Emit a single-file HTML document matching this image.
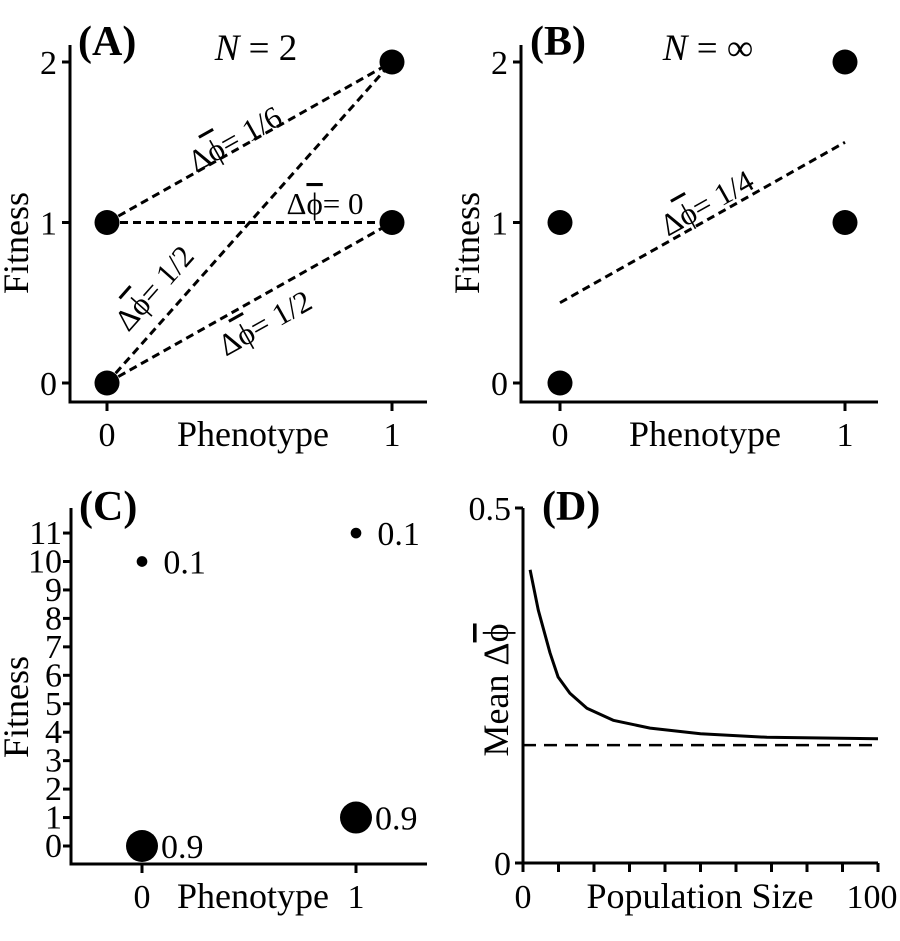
<!DOCTYPE html>
<html><head><meta charset="utf-8"><style>
html,body{margin:0;padding:0;background:#fff}
svg{display:block;font-family:"Liberation Serif",serif}
text{fill:#000}
</style></head><body>
<svg id="fig" width="900" height="941" viewBox="0 0 900 941" xmlns="http://www.w3.org/2000/svg">
</svg>
<script>
// Panel A data
const aPhen = [0, 0, 1, 1];
const aFit = [0, 1, 1, 2];
const aPairs = [[1,3],[1,2],[0,3],[0,2]];
// Panel B data
const bPhen = [0, 0, 1, 1];
const bFit = [0, 1, 1, 2];
const bLine = [0.5, 1.5];
// Panel C data
const cPhen = [0, 0, 1, 1];
const cFit = [0, 10, 1, 11];
const cProb = [0.9, 0.1, 0.9, 0.1];
const cProbLabels = ["0.9", "0.1", "0.9", "0.1"];
// Panel D data
const dN = [2, 4.3, 7.6, 9.9, 13.2, 18, 25.4, 35.8, 50, 68.7, 100];
const dMean = [0.413, 0.356, 0.296, 0.262, 0.239, 0.218, 0.201, 0.190, 0.182, 0.177, 0.175];
const dInf = [0.166];
const dXTicks = [0,10,20,30,40,50,60,70,80,90,100];

const NS = "http://www.w3.org/2000/svg";
const svg = document.getElementById('fig');
function el(tag, attrs, parent, txt){
  const e = document.createElementNS(NS, tag);
  for (const k in attrs) e.setAttribute(k, attrs[k]);
  if (txt !== undefined) e.textContent = txt;
  (parent || svg).appendChild(e);
  return e;
}
function group(name){
  const g = el('g', {});
  
  
  return g;
}
function axisLines(g, x0, yTop, yBot, xEnd){
  const l1 = el('line',{x1:x0,y1:yTop,x2:x0,y2:yBot+1.5,stroke:'#000','stroke-width':3},g);
   
  const l2 = el('line',{x1:x0-1.5,y1:yBot,x2:xEnd,y2:yBot,stroke:'#000','stroke-width':3},g);
   
}
function deltaLabel(g, x, y, angle, valueText, name){
  const t = el('text',{x:x,y:y,'font-size':31,'text-anchor':'middle',transform:`rotate(${angle} ${x} ${y})`},g);
   
  el('tspan',{},t,'Δ');
  el('tspan',{'text-decoration':'overline'},t,'ϕ');
  el('tspan',{},t,'= ' + valueText);
  return t;
}
const TF = 34, AF = 36, PF = 42;

// ---------- Panel A ----------
(function(){
  const g = group('panel-a');
  const sx = v => 107 + v*285, sy = v => 383 - v*160.5;
  axisLines(g, 70, 45, 402, 427);
  [0,1,2].forEach(v=>{
    el('line',{x1:62,y1:sy(v),x2:70,y2:sy(v),stroke:'#000','stroke-width':3},g);
    const t = el('text',{x:57,y:sy(v)+12,'font-size':TF,'text-anchor':'end'},g,String(v));
     
  });
  [0,1].forEach(v=>{
    el('line',{x1:sx(v),y1:402,x2:sx(v),y2:411,stroke:'#000','stroke-width':3},g);
    const t = el('text',{x:sx(v),y:446,'font-size':TF,'text-anchor':'middle'},g,String(v));
     
  });
  let t = el('text',{x:253,y:446,'font-size':AF,'text-anchor':'middle'},g,'Phenotype');
   
  t = el('text',{x:28,y:243,'font-size':AF,'text-anchor':'middle',transform:'rotate(-90 28 243)'},g,'Fitness');
   
  t = el('text',{x:78,y:55,'font-size':PF,'font-weight':'bold'},g,'(A)');
   
  t = el('text',{x:256,y:60,'font-size':37,'text-anchor':'middle'},g);
   
  el('tspan',{'font-style':'italic'},t,'N');
  el('tspan',{},t,' = 2');
  aPairs.forEach(p=>{
    const a=p[0], b=p[1];
    const l = el('line',{x1:sx(aPhen[a]),y1:sy(aFit[a]),x2:sx(aPhen[b]),y2:sy(aFit[b]),stroke:'#000','stroke-width':3,'stroke-dasharray':'8 5'},g);
     
  });
  aPhen.forEach((p,i)=>{
    const c = el('circle',{cx:sx(p),cy:sy(aFit[i]),r:12.5,fill:'#000'},g);
     
  });
  deltaLabel(g, 240, 148, -29.3, '1/6', 'delta-label-1-6');
  deltaLabel(g, 325, 214, 0, '0', 'delta-label-0');
  deltaLabel(g, 162, 295, -48.4, '1/2', 'delta-label-1-2-steep');
  deltaLabel(g, 270, 332, -29.3, '1/2', 'delta-label-1-2');
})();

// ---------- Panel B ----------
(function(){
  const g = group('panel-b');
  const sx = v => 560 + v*285, sy = v => 383 - v*160.5;
  axisLines(g, 521, 45, 402, 878);
  [0,1,2].forEach(v=>{
    el('line',{x1:513,y1:sy(v),x2:521,y2:sy(v),stroke:'#000','stroke-width':3},g);
    const t = el('text',{x:508,y:sy(v)+12,'font-size':TF,'text-anchor':'end'},g,String(v));
     
  });
  [0,1].forEach(v=>{
    el('line',{x1:sx(v),y1:402,x2:sx(v),y2:411,stroke:'#000','stroke-width':3},g);
    const t = el('text',{x:sx(v),y:446,'font-size':TF,'text-anchor':'middle'},g,String(v));
     
  });
  let t = el('text',{x:705,y:446,'font-size':AF,'text-anchor':'middle'},g,'Phenotype');
   
  t = el('text',{x:479,y:243,'font-size':AF,'text-anchor':'middle',transform:'rotate(-90 479 243)'},g,'Fitness');
   
  t = el('text',{x:530,y:55,'font-size':PF,'font-weight':'bold'},g,'(B)');
   
  t = el('text',{x:708,y:60,'font-size':37,'text-anchor':'middle'},g);
   
  el('tspan',{'font-style':'italic'},t,'N');
  el('tspan',{},t,' = ∞');
  const l = el('line',{x1:sx(0),y1:sy(bLine[0]),x2:sx(1),y2:sy(bLine[1]),stroke:'#000','stroke-width':3,'stroke-dasharray':'8 5'},g);
   
  bPhen.forEach((p,i)=>{
    const c = el('circle',{cx:sx(p),cy:sy(bFit[i]),r:12.5,fill:'#000'},g);
     
  });
  deltaLabel(g, 712, 212, -29.3, '1/4', 'delta-label-1-4');
})();

// ---------- Panel C ----------
(function(){
  const g = group('panel-c');
  const sx = v => 142 + v*214, sy = v => 846 - v*28.45;
  axisLines(g, 71, 508, 864, 427);
  for (let v=0; v<=11; v++){
    el('line',{x1:63,y1:sy(v),x2:71,y2:sy(v),stroke:'#000','stroke-width':3},g);
    const t = el('text',{x:62,y:sy(v)+11,'font-size':TF,'text-anchor':'end'},g,String(v));
     
  }
  [0,1].forEach(v=>{
    el('line',{x1:sx(v),y1:864,x2:sx(v),y2:873,stroke:'#000','stroke-width':3},g);
    const t = el('text',{x:sx(v),y:908,'font-size':TF,'text-anchor':'middle'},g,String(v));
     
  });
  let t = el('text',{x:253,y:908,'font-size':AF,'text-anchor':'middle'},g,'Phenotype');
   
  t = el('text',{x:28,y:707,'font-size':AF,'text-anchor':'middle',transform:'rotate(-90 28 707)'},g,'Fitness');
   
  t = el('text',{x:79,y:520,'font-size':PF,'font-weight':'bold'},g,'(C)');
   
  cPhen.forEach((p,i)=>{
    const r = 16*Math.sqrt(cProb[i]/0.9);
    const c = el('circle',{cx:sx(p),cy:sy(cFit[i]),r:r,fill:'#000'},g);
     
    const lb = el('text',{x:sx(p)+r+(cProb[i]<0.5?16:3),y:sy(cFit[i])+12,'font-size':TF},g,cProbLabels[i]);
     
  });
})();

// ---------- Panel D ----------
(function(){
  const g = group('panel-d');
  const sx = v => 523 + v*3.55, sy = v => 863 - v*710;
  axisLines(g, 523, 508, 863, 878);
  [0,0.5].forEach(v=>{
    el('line',{x1:515,y1:sy(v),x2:523,y2:sy(v),stroke:'#000','stroke-width':3},g);
    const t = el('text',{x:511,y:sy(v)+12,'font-size':TF,'text-anchor':'end'},g,String(v));
     
  });
  dXTicks.forEach(v=>{
    el('line',{x1:sx(v),y1:863,x2:sx(v),y2:872,stroke:'#000','stroke-width':3},g);
  });
  [0,100].forEach(v=>{
    const t = el('text',{x:sx(v)-(v===100?6:0),y:908,'font-size':TF,'text-anchor':'middle'},g,String(v));
     
  });
  let t = el('text',{x:700,y:908,'font-size':AF,'text-anchor':'middle'},g,'Population Size');
   
  t = el('text',{x:0,y:0,'font-size':AF,'text-anchor':'middle',transform:'translate(508 690) rotate(-90)'},g);
   
  el('tspan',{},t,'Mean  Δ');
  el('tspan',{'text-decoration':'overline'},t,'ϕ');
  t = el('text',{x:542,y:520,'font-size':PF,'font-weight':'bold'},g,'(D)');
   
  const dl = el('line',{x1:sx(0),y1:sy(dInf[0]),x2:sx(100),y2:sy(dInf[0]),stroke:'#000','stroke-width':2.5,'stroke-dasharray':'13 8'},g);
   
  const d = dN.map((n,i)=>(i?'L':'M')+sx(n).toFixed(1)+' '+sy(dMean[i]).toFixed(1)).join(' ');
  const p = el('path',{d:d,fill:'none',stroke:'#000','stroke-width':3,'stroke-linejoin':'round'},g);
   
})();
</script>
</body></html>
